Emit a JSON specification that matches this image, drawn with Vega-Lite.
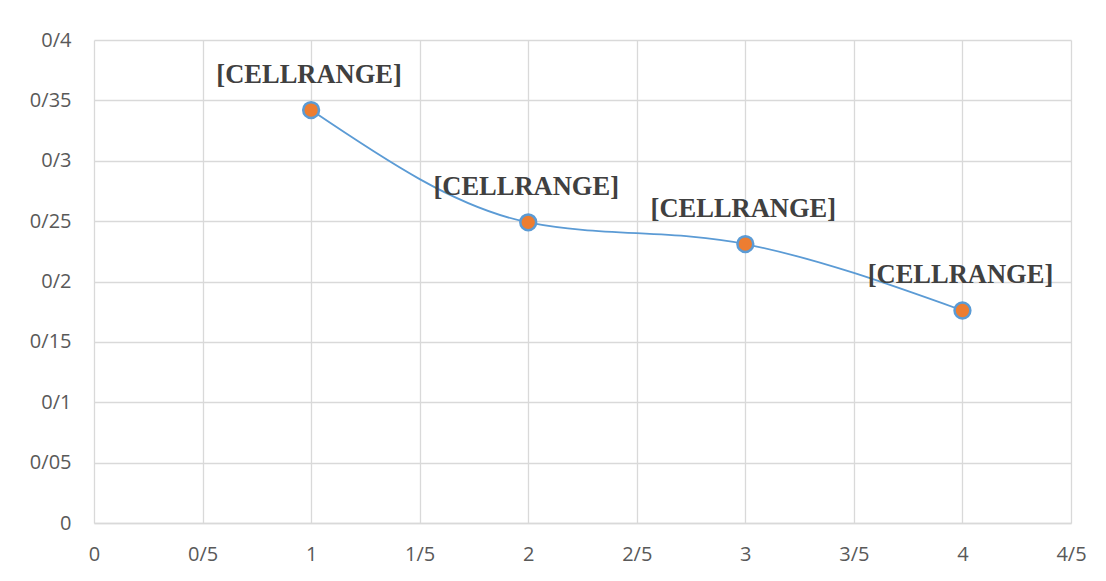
{
  "$schema": "https://vega.github.io/schema/vega-lite/v6.json",
  "autosize": {"type": "none"},
  "padding": {"left": 94, "top": 40, "right": 35, "bottom": 58},
  "width": 977,
  "height": 483,
  "background": "white",
  "config": {
    "view": {"stroke": null},
    "axis": {
      "labelFont": "Open Sans",
      "labelFontSize": 20,
      "labelColor": "#595959",
      "gridColor": "#d9d9d9",
      "gridWidth": 1.3,
      "domainColor": "#d9d9d9",
      "domainWidth": 1.5,
      "ticks": false,
      "title": null
    }
  },
  "data": {
    "values": [
      {"x": 1, "y": 0.342, "label": "[CELLRANGE]"},
      {"x": 2, "y": 0.249, "label": "[CELLRANGE]"},
      {"x": 3, "y": 0.231, "label": "[CELLRANGE]"},
      {"x": 4, "y": 0.176, "label": "[CELLRANGE]"}
    ]
  },
  "encoding": {
    "x": {
      "field": "x",
      "type": "quantitative",
      "scale": {"domain": [0, 4.5], "nice": false, "zero": true},
      "axis": {
        "values": [0, 0.5, 1, 1.5, 2, 2.5, 3, 3.5, 4, 4.5],
        "labelExpr": "replace(format(datum.value, '.2~f'), '.', '/')",
        "labelPadding": 21,
        "labelFlush": false,
        "grid": true
      }
    },
    "y": {
      "field": "y",
      "type": "quantitative",
      "scale": {"domain": [0, 0.4], "nice": false},
      "axis": {
        "values": [0, 0.05, 0.1, 0.15, 0.2, 0.25, 0.3, 0.35, 0.4],
        "labelExpr": "replace(format(datum.value, '.2~f'), '.', '/')",
        "labelPadding": 23,
        "domain": false,
        "grid": true
      }
    }
  },
  "layer": [
    {
      "mark": {"type": "line", "interpolate": "monotone", "color": "#5B9BD5", "strokeWidth": 1.8}
    },
    {
      "mark": {"type": "point", "shape": "circle", "filled": true, "fill": "#ED7D31", "stroke": "#5B9BD5", "strokeWidth": 2.5, "size": 250, "opacity": 1}
    },
    {
      "mark": {"type": "text", "font": "Liberation Serif", "fontWeight": "bold", "fontSize": 26.5, "color": "#404040", "dy": -35, "dx": -2},
      "encoding": {"text": {"field": "label"}}
    }
  ]
}
